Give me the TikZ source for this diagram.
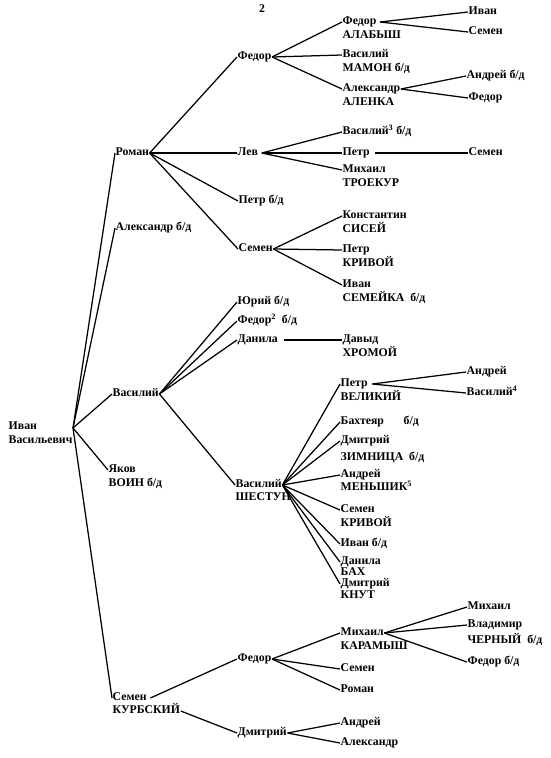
\documentclass[tikz,border=0pt]{standalone}
\usepackage{fontspec}
\setmainfont{Liberation Serif}
\begin{document}
\begin{tikzpicture}[x=1pt,y=-1pt,
  nm/.style={anchor=west, inner sep=0.5pt, font=\bfseries\fontsize{11.8}{13}\selectfont, text height=6.5pt, text depth=1.5pt},
  ln/.style={line width=1.25pt}]
\useasboundingbox (0,0) rectangle (550,758);
\node[font=\bfseries\fontsize{11.8}{13}\selectfont] (title) at (262,9) {2};
% root
\node[nm] (r1) at (8,427) {Иван};
\node[nm] (r2) at (8,441) {Васильевич};
\coordinate (rc) at (73,428);
% level 1
\node[nm] (roman) at (115,153) {Роман};
\node[nm] (alex) at (115,228) {Александр б/д};
\node[nm] (vas) at (112,394) {Василий};
\node[nm] (yak) at (108,470) {Яков};
\node[nm] (yak2) at (108,484) {ВОИН б/д};
\node[nm] (sem) at (112,698) {Семен};
\node[nm] (sem2) at (112,711) {КУРБСКИЙ};
\foreach \t in {roman,alex,vas,yak,sem} \draw[ln] (rc) -- (\t.west);
% Roman's children
\node[nm] (fedor) at (237,57) {Федор};
\node[nm] (lev) at (237,153) {Лев};
\node[nm] (petr) at (238,201) {Петр б/д};
\node[nm] (semen) at (238,249) {Семен};
\foreach \t in {fedor,lev,petr,semen} \draw[ln] (roman.east) -- (\t.west);
% Fedor's children
\node[nm] (fa) at (342,22) {Федор};
\node[nm] (fa2) at (342,36) {АЛАБЫШ};
\node[nm] (vm) at (342,55) {Василий};
\node[nm] (vm2) at (342,69) {МАМОН б/д};
\node[nm] (aa) at (342,89) {Александр};
\node[nm] (aa2) at (342,103) {АЛЕНКА};
\foreach \t in {fa,vm,aa} \draw[ln] (fedor.east) -- (\t.west);
\node[nm] (fai) at (468,12) {Иван};
\node[nm] (fas) at (468,32) {Семен};
\draw[ln] (fa.east) ++(3,0) coordinate (fac) -- (fai.west);
\draw[ln] (fac) -- (fas.west);
\node[nm] (aaa) at (466,76) {Андрей б/д};
\node[nm] (aaf) at (468,98) {Федор};
\foreach \t in {aaa,aaf} \draw[ln] (aa.east) -- (\t.west);
% Lev's children
\node[nm] (v3) at (342,132) {Василий\textsuperscript{3} б/д};
\node[nm] (pl) at (342,153) {Петр};
\node[nm] (mt) at (342,170) {Михаил};
\node[nm] (mt2) at (342,184) {ТРОЕКУР};
\draw[ln] (lev.east) ++(3,0) coordinate (levc) -- (v3.west);
\draw[ln] (levc) -- (pl.west);
\draw[ln] (levc) -- (mt.west);
\node[nm] (ps) at (468,153) {Семен};
\draw[ln] (pl.east) ++(5,0) -- (ps.west);
% Semen's children
\node[nm] (ks) at (342,216) {Константин};
\node[nm] (ks2) at (342,230) {СИСЕЙ};
\node[nm] (pk) at (342,250) {Петр};
\node[nm] (pk2) at (342,264) {КРИВОЙ};
\node[nm] (is) at (342,285) {Иван};
\node[nm] (is2) at (342,299) {СЕМЕЙКА\ \ б/д};
\foreach \t in {ks,pk,is} \draw[ln] (semen.east) -- (\t.west);
% Vasiliy's children
\node[nm] (yu) at (237,302) {Юрий б/д};
\node[nm] (f2) at (237,321) {Федор\textsuperscript{2}\ \ б/д};
\node[nm] (dan) at (237,340) {Данила};
\node[nm] (vsh) at (235,485) {Василий};
\node[nm] (vsh2) at (235,498) {ШЕСТУН};
\foreach \t in {yu,f2,dan,vsh} \draw[ln] (vas.east) -- (\t.west);
\node[nm] (dh) at (342,340) {Давыд};
\node[nm] (dh2) at (342,354) {ХРОМОЙ};
\draw[ln] (dan.east) ++(5,0) -- (dh.west);
% Shestun's children
\node[nm] (pv) at (340,384) {Петр};
\node[nm] (pv2) at (340,398) {ВЕЛИКИЙ};
\node[nm] (bah) at (340,422) {Бахтеяр};
\node[nm] (bah2) at (403,422) {б/д};
\node[nm] (dz) at (340,441) {Дмитрий};
\node[nm] (dz2) at (340,458) {ЗИМНИЦА\ \ б/д};
\node[nm] (am) at (340,475) {Андрей};
\node[nm] (am2) at (340,488) {МЕНЬШИК\textsuperscript{5}};
\node[nm] (sk) at (340,510) {Семен};
\node[nm] (sk2) at (340,524) {КРИВОЙ};
\node[nm] (ib) at (340,544) {Иван б/д};
\node[nm] (db) at (340,562) {Данила};
\node[nm] (db2) at (340,573) {БАХ};
\node[nm] (dk) at (340,584) {Дмитрий};
\node[nm] (dk2) at (340,596) {КНУТ};
\foreach \t in {pv,bah,dz,am,sk,ib,db,dk} \draw[ln] (vsh.east) -- (\t.west);
\node[nm] (pva) at (466,372) {Андрей};
\node[nm] (pvv) at (466,393) {Василий\textsuperscript{4}};
\draw[ln] (pv.east) ++(4,0) coordinate (pvc) -- (pva.west);
\draw[ln] (pvc) -- (pvv.west);
% Kurbsky's children
\node[nm] (kf) at (237,659) {Федор};
\node[nm] (kd) at (237,733) {Дмитрий};
\draw[ln] (sem.east) ++(3,0) -- (kf.west);
\draw[ln] (sem2.east) -- (kd.west);
\node[nm] (mk) at (340,633) {Михаил};
\node[nm] (mk2) at (340,647) {КАРАМЫШ};
\node[nm] (kse) at (340,669) {Семен};
\node[nm] (kro) at (340,690) {Роман};
\foreach \t in {mk,kse,kro} \draw[ln] (kf.east) -- (\t.west);
\node[nm] (m1) at (467,607) {Михаил};
\node[nm] (vc) at (467,625) {Владимир};
\node[nm] (vc2) at (467,641) {ЧЕРНЫЙ\ \ б/д};
\node[nm] (fb) at (467,662) {Федор б/д};
\foreach \t in {m1,vc,fb} \draw[ln] (mk.east) -- (\t.west);
\node[nm] (ka) at (340,723) {Андрей};
\node[nm] (kal) at (340,743) {Александр};
\foreach \t in {ka,kal} \draw[ln] (kd.east) -- (\t.west);
\end{tikzpicture}
\end{document}
